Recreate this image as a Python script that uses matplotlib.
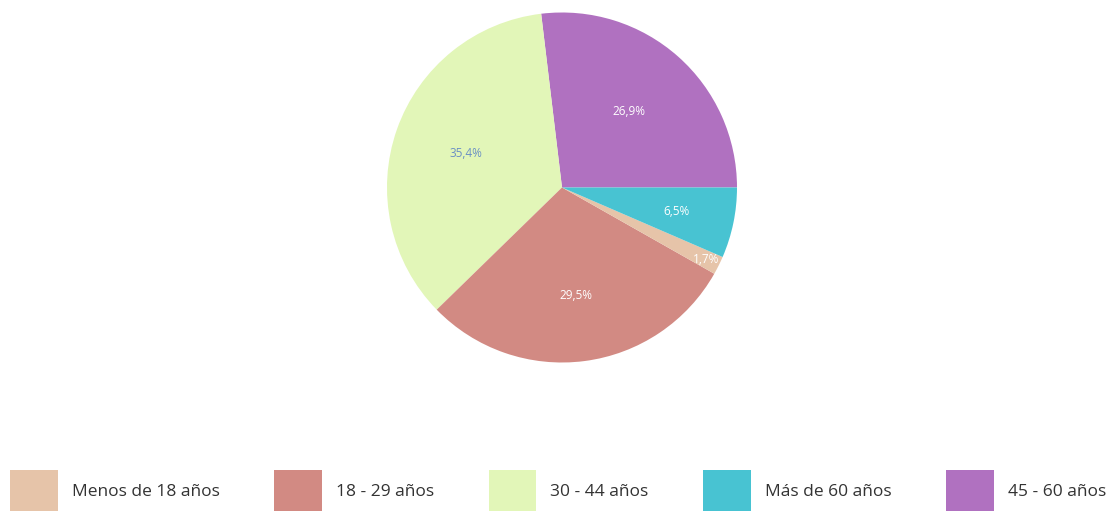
import numpy as np
import matplotlib.pyplot as plt
from matplotlib.patches import Patch

# Data (pie order, counter-clockwise from 3 o'clock)
groups = ['45 - 60 años', '30 - 44 años', '18 - 29 años', 'Menos de 18 años', 'Más de 60 años']
shares = [26.9, 35.4, 29.5, 1.7, 6.5]
colors = ['#b071c0', '#e2f6b8', '#d28a83', '#e6c4a9', '#48c3d2']
label_colors = ['white', '#6a8fc4', 'white', 'white', 'white']
label_dist = [0.58, 0.58, 0.62, 0.92, 0.67]

legend_order = ['Menos de 18 años', '18 - 29 años', '30 - 44 años', 'Más de 60 años', '45 - 60 años']

plt.rcParams['font.family'] = ['Open Sans', 'DejaVu Sans']

W, H = 1117, 511
fig = plt.figure(figsize=(W / 100, H / 100), dpi=100)

# Pie axes: centre (562, 187.5), radius 175 px
cx, cy, r = 562, 187.5, 175
ax = fig.add_axes([(cx - r) / W, (H - cy - r) / H, 2 * r / W, 2 * r / H])
wedges, _ = ax.pie(shares, colors=colors, startangle=0, counterclock=True,
                   radius=1, wedgeprops=dict(linewidth=0))
ax.set_xlim(-1, 1)
ax.set_ylim(-1, 1)
ax.set_aspect('equal')
ax.axis('off')

# Percentage labels
for w, val, col, d in zip(wedges, shares, label_colors, label_dist):
    ang = np.deg2rad((w.theta1 + w.theta2) / 2)
    ax.text(d * np.cos(ang), d * np.sin(ang), f'{val:.1f}%'.replace('.', ','),
            ha='center', va='center', fontsize=8.5, color=col)

# Legend
handles = [Patch(facecolor=colors[groups.index(g)], edgecolor='none', label=g)
           for g in legend_order]
fig.legend(handles=handles, loc='center left', bbox_to_anchor=(10 / W, 1 - 491 / H),
           ncol=5, frameon=False, fontsize=12.5, labelcolor='#333333',
           handlelength=2.75, handleheight=3.35,
           handletextpad=0.8, columnspacing=3.15, borderpad=0, borderaxespad=0)

fig.savefig('out.png', dpi=100)
